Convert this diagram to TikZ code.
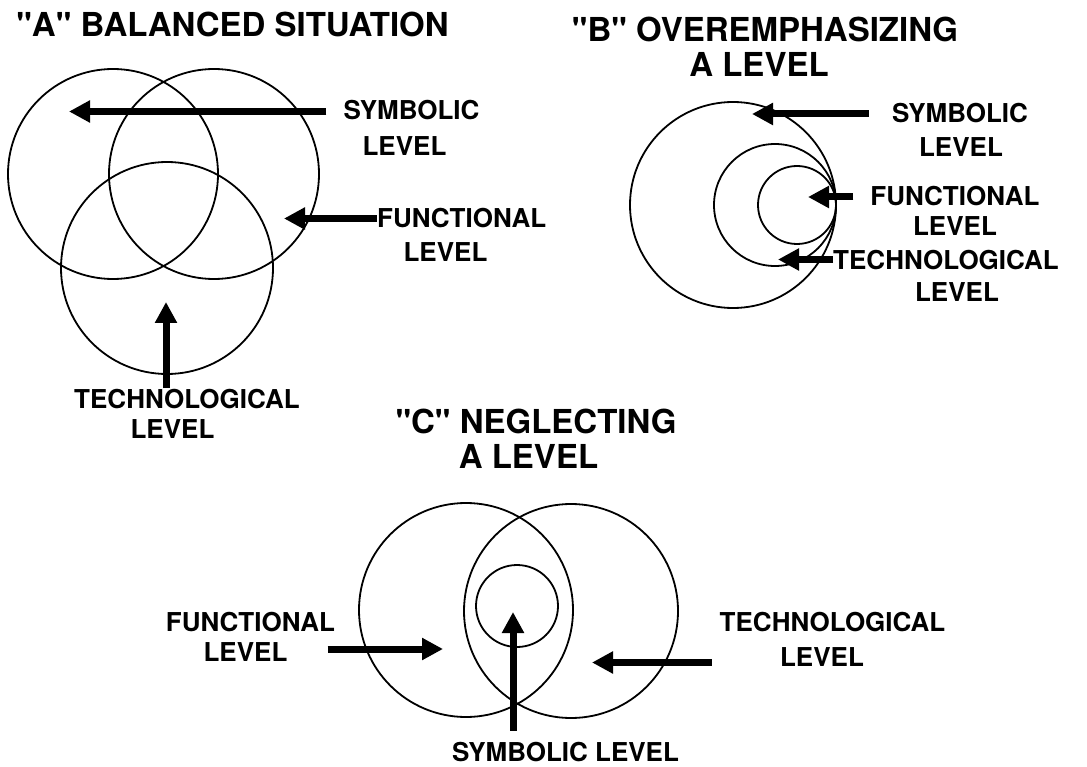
\documentclass[tikz,border=0pt]{standalone}
\usepackage{fontspec}
\setmainfont{TeX Gyre Heros}[Ligatures=TeXOff]
\usetikzlibrary{arrows.meta}
\tikzset{
  ring/.style={draw, line width=1.8pt},
  lbl/.style={inner sep=0pt, font=\fontsize{26}{30}\selectfont\bfseries},
  ttl/.style={inner sep=0pt, font=\fontsize{33}{38}\selectfont\bfseries},
  arr/.style={line width=7pt, -{Triangle[length=21pt,width=21pt]}},
}
\begin{document}
\begin{tikzpicture}[x=1pt,y=-1pt]
\useasboundingbox[fill=white] (0,0) rectangle (1087,767);

% ---------------- A ----------------
\node[ttl] (atitle) at (232.5,24.5) {"A" BALANCED SITUATION};
\draw[ring] (113,174) circle[radius=105];
\draw[ring] (214,174) circle[radius=105];
\draw[ring] (167,268) circle[radius=106];

\node[lbl] (asym1) at (411.5,110.5) {SYMBOLIC};
\node[lbl] (asym2) at (404.5,146) {LEVEL};
\node[lbl,anchor=west] (afun1) at (377,218.5) {FUNCTIONAL};
\node[lbl] (afun2) at (445.5,252.5) {LEVEL};
\node[lbl] (atec1) at (187,399) {TECHNOLOGICAL};
\node[lbl] (atec2) at (172.5,429) {LEVEL};

\coordinate (asymtip) at (69,111.5);
\coordinate (afuntip) at (284,218.5);
\coordinate (atectip) at (166,302);
\draw[arr, shorten <=17pt] (asym1.west |- asymtip) -- (asymtip);
\draw[arr] (afun1.west) -- (afuntip);
\draw[arr, shorten <=1pt] (atec1.north -| atectip) -- (atectip);

% ---------------- B ----------------
\node[ttl] (btitle1) at (765,29) {"B" OVEREMPHASIZING};
\node[ttl] (btitle2) at (759,64) {A LEVEL};
\draw[ring] (733,205) circle[radius=103];
\draw[ring] (775,205) circle[radius=61];
\draw[ring] (797,205) circle[radius=39];

\node[lbl] (bsym1) at (960,113.5) {SYMBOLIC};
\node[lbl] (bsym2) at (961,147.5) {LEVEL};
\node[lbl] (bfun1) at (955,196) {FUNCTIONAL};
\node[lbl] (bfun2) at (955,226.5) {LEVEL};
\node[lbl,anchor=west] (btec1) at (833,260) {TECHNOLOGICAL};
\node[lbl] (btec2) at (957,292) {LEVEL};

\coordinate (bsymtip) at (752,114);
\coordinate (bfuntip) at (808,197);
\coordinate (btectip) at (778,259.5);
\draw[arr, shorten <=23pt] (bsym1.west |- bsymtip) -- (bsymtip);
\draw[arr, shorten <=17pt] (bfun1.west |- bfuntip) -- (bfuntip);
\draw[arr] (btec1.west |- btectip) -- (btectip);

% ---------------- C ----------------
\node[ttl] (ctitle1) at (536,421) {"C" NEGLECTING};
\node[ttl] (ctitle2) at (528.5,456) {A LEVEL};
\draw[ring] (466,610) circle[radius=107];
\draw[ring] (571,611) circle[radius=107];
\draw[ring] (517,606) circle[radius=41];

\node[lbl] (cfun1) at (250.5,622) {FUNCTIONAL};
\node[lbl] (cfun2) at (245.5,652.5) {LEVEL};
\node[lbl] (ctec1) at (832.5,622.5) {TECHNOLOGICAL};
\node[lbl] (ctec2) at (822,657) {LEVEL};
\node[lbl] (csym) at (565.5,752.5) {SYMBOLIC LEVEL};

\coordinate (cfuntip) at (443,649);
\coordinate (ctectip) at (592,662.5);
\coordinate (csymtip) at (513,612);
\draw[arr, shorten <=40pt] (cfun2.east |- cfuntip) -- (cfuntip);
\draw[arr, shorten <=68pt] (ctec2.west |- ctectip) -- (ctectip);
\draw[arr, shorten <=12pt] (csym.north -| csymtip) -- (csymtip);
\end{tikzpicture}
\end{document}
